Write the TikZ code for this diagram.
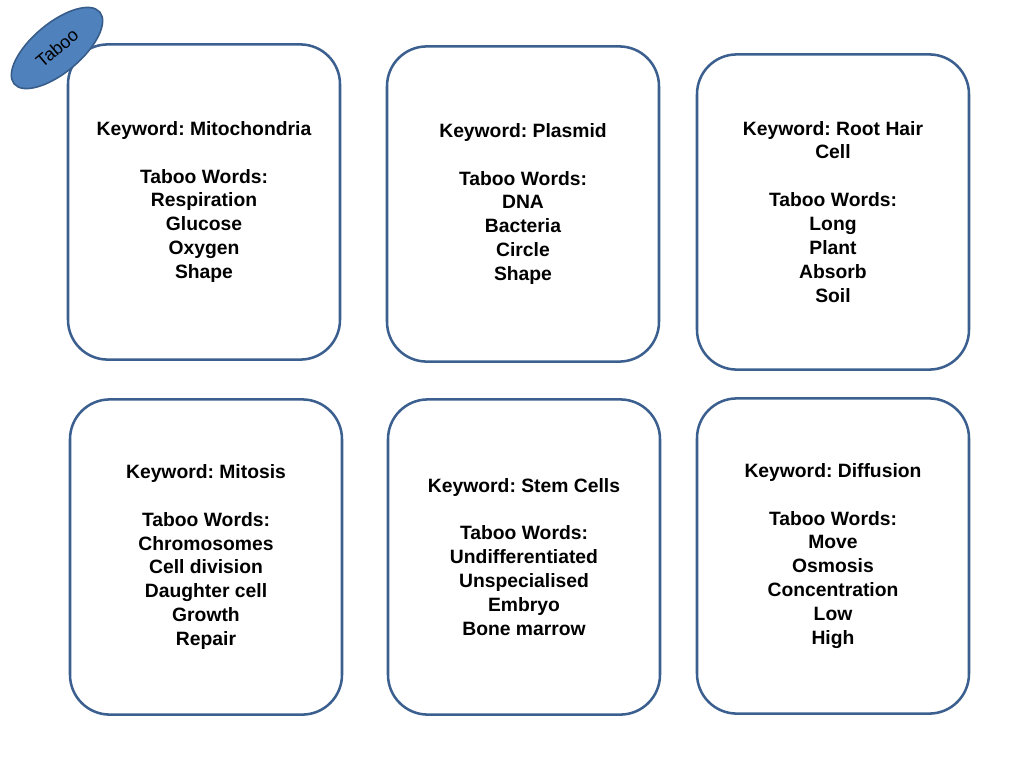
\documentclass[tikz,border=0pt]{standalone}
\usepackage{fontspec}
\setmainfont{Liberation Sans}
\usetikzlibrary{shapes.geometric}
\definecolor{cardLine}{HTML}{3B5F8E}
\definecolor{tabooFill}{HTML}{4F81BD}
\definecolor{tabooLine}{HTML}{385D8A}
\frenchspacing
\begin{document}
\begin{tikzpicture}[x=0.0264cm,y=-0.0264cm,align=center,
    every node/.style={font=\fontsize{14.5}{18}\selectfont\bfseries}]
    \tikzstyle{card}=[draw=cardLine,line width=1.9pt,rectangle,rounded corners=1.05cm,
      minimum width=7.18cm,minimum height=8.32cm,fill=white]
    \tikzstyle{badge}=[ellipse,draw=tabooLine,line width=1.2pt,fill=tabooFill,
      minimum width=2.95cm,minimum height=1.3cm,rotate=40,inner sep=1pt,
      font=\fontsize{13.5}{15}\selectfont\mdseries]
    \useasboundingbox (0,0) rectangle (1024,768);
    % cards
    \node (mito) [card] at (204,202)
      {Keyword: Mitochondria\\[18pt]Taboo Words:\\Respiration\\Glucose\\Oxygen\\Shape};
    \node (plasmid) [card] at (523,204)
      {Keyword: Plasmid\\[18pt]Taboo Words:\\DNA\\Bacteria\\Circle\\Shape};
    \node (roothair) [card] at (833,212)
      {Keyword: Root Hair\\Cell\\[18pt]Taboo Words:\\Long\\Plant\\Absorb\\Soil};
    \node (mitosis) [card] at (206,557)
      {Keyword: Mitosis\\[18pt]Taboo Words:\\Chromosomes\\Cell division\\Daughter cell\\Growth\\Repair};
    \node (stem) [card] at (524,557)
      {Keyword: Stem Cells\\[18pt]Taboo Words:\\Undifferentiated\\Unspecialised\\Embryo\\Bone marrow};
    \node (diffusion) [card] at (833,556)
      {Keyword: Diffusion\\[18pt]Taboo Words:\\Move\\Osmosis\\Concentration\\Low\\High};
    % badge
    \node (taboo) [badge] at (57,48) {Taboo};
\end{tikzpicture}
\end{document}
